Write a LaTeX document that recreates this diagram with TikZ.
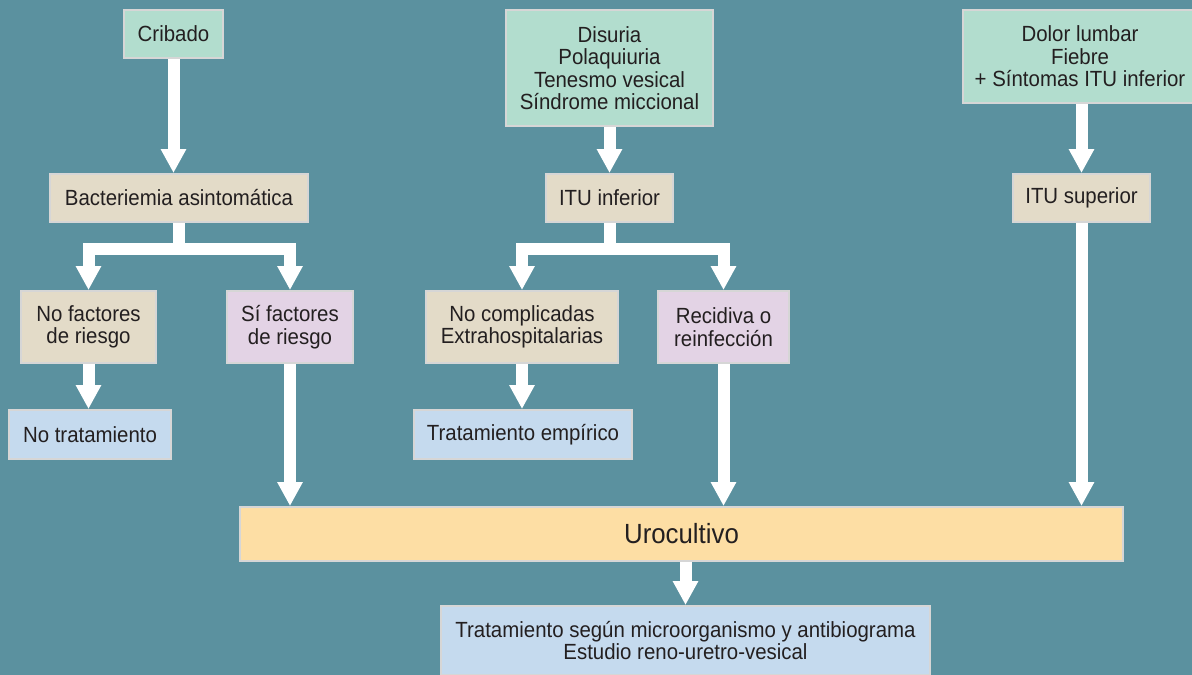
\documentclass[tikz,border=0pt]{standalone}
\usepackage{fontspec}
\setmainfont{Liberation Sans}[FakeStretch=0.93]
\usetikzlibrary{arrows.meta, positioning, calc}

\definecolor{bgteal}{RGB}{91,145,159}
\definecolor{symgreen}{RGB}{178,221,206}
\definecolor{diagbeige}{RGB}{227,219,200}
\definecolor{risklilac}{RGB}{227,211,229}
\definecolor{treatblue}{RGB}{197,218,238}
\definecolor{uroorange}{RGB}{253,222,164}
\definecolor{boxline}{RGB}{214,214,214}
\definecolor{txtdark}{RGB}{35,31,32}

\tikzset{
  box/.style={draw=boxline, line width=0.04cm, align=center, inner sep=0pt,
    text=txtdark, font=\fontsize{12.5}{12.8}\selectfont},
  symptom/.style={box, fill=symgreen},
  diag/.style={box, fill=diagbeige},
  risk/.style={box, fill=risklilac},
  treat/.style={box, fill=treatblue},
  flow/.style={draw=white, line width=0.24cm,
    -{Triangle[width=0.48cm, length=0.48cm]}}
}

\begin{document}
\begin{tikzpicture}[x=0.02cm, y=-0.02cm]
  \fill[bgteal] (0,0) rectangle (1192,675);
  \useasboundingbox (0,0) rectangle (1192,675);

  % Presentations
  \node[symptom, minimum width=1.98cm, minimum height=0.96cm] (crib) at (173.5,34) {Cribado};
  \node[symptom, minimum width=4.14cm, minimum height=2.32cm] (disur) at (609.5,68)
    {Disuria\\Polaquiuria\\Tenesmo vesical\\Síndrome miccional};
  \node[symptom, minimum width=4.68cm, minimum height=1.86cm] (dolor) at (1080,56.5)
    {Dolor lumbar\\Fiebre\\+ Síntomas ITU inferior};

  % Diagnoses
  \node[diag, minimum width=5.16cm, minimum height=0.96cm] (bact) at (179,198) {Bacteriemia asintomática};
  \node[diag, minimum width=2.54cm, minimum height=0.96cm] (ituinf) at (609.5,198) {ITU inferior};
  \node[diag, minimum width=2.74cm, minimum height=0.96cm] (itusup) at (1081.5,198) {ITU superior};

  % Risk groups
  \node[diag, minimum width=2.70cm, minimum height=1.44cm] (nofact) at (88.5,327) {No factores\\de riesgo};
  \node[risk, minimum width=2.52cm, minimum height=1.44cm] (sifact) at (290,327) {Sí factores\\de riesgo};
  \node[diag, minimum width=3.84cm, minimum height=1.44cm] (nocomp) at (522,327) {No complicadas\\Extrahospitalarias};
  \node[risk, minimum width=2.62cm, minimum height=1.44cm] (recid) at (723.5,327) {Recidiva o\\reinfección};

  % Treatments
  \node[treat, minimum width=3.24cm, minimum height=0.98cm] (notrat) at (90,434.5) {No tratamiento};
  \node[treat, minimum width=4.36cm, minimum height=0.98cm] (tratemp) at (523,434.5) {Tratamiento empírico};
  \node[box, fill=uroorange, minimum width=17.66cm, minimum height=1.08cm,
    font=\fontsize{15.8}{17}\selectfont] (uro) at (681.5,534) {Urocultivo};
  \node[treat, minimum width=9.78cm, minimum height=1.38cm] (tratseg) at (685.5,640.5)
    {Tratamiento según microorganismo y antibiograma\\Estudio reno-uretro-vesical};

  % Arrows
  \draw[flow] (crib.south) -- (crib.south |- bact.north);
  \draw[flow] (disur.south) -- (disur.south |- ituinf.north);
  \draw[flow] (itusup.north |- dolor.south) -- (itusup.north);

  \draw[flow] (bact.south) -- ++(0,26.5) -| (nofact.north);
  \draw[flow] (bact.south) -- ++(0,26.5) -| (sifact.north);
  \draw[flow] (ituinf.south) -- ++(0,26.5) -| (nocomp.north);
  \draw[flow] (ituinf.south) -- ++(0,26.5) -| (recid.north);

  \draw[flow] (nofact.south) -- (nofact.south |- notrat.north);
  \draw[flow] (nocomp.south) -- (nocomp.south |- tratemp.north);

  \draw[flow] (sifact.south) -- (sifact.south |- uro.north);
  \draw[flow] (recid.south) -- (recid.south |- uro.north);
  \draw[flow] (itusup.south) -- (itusup.south |- uro.north);

  \draw[flow] (tratseg.north |- uro.south) -- (tratseg.north);
\end{tikzpicture}
\end{document}
